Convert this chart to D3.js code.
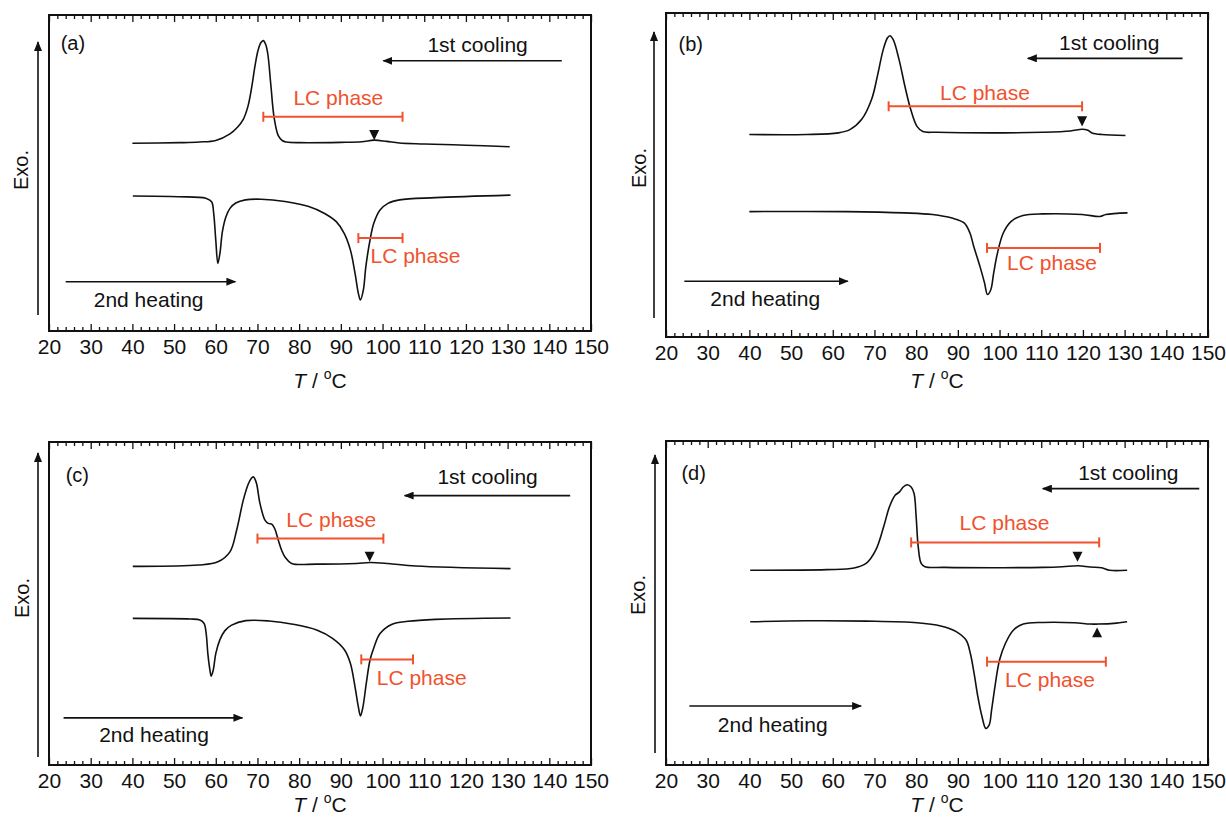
<!DOCTYPE html>
<html>
<head>
<meta charset="utf-8">
<script src="https://cdn.jsdelivr.net/npm/d3@7"></script>
<style>
  html, body { margin: 0; padding: 0; background: #ffffff; }
  svg { display: block; }
  text { font-family: "Liberation Sans", Arial, sans-serif; }
</style>
</head>
<body>
<svg id="chart" width="1226" height="817"></svg>
<script>
// ---------------- DATA ----------------
const xTickValues = [20, 30, 40, 50, 60, 70, 80, 90, 100, 110, 120, 130, 140, 150];
const panelLabels = ["(a)", "(b)", "(c)", "(d)"];
const coolingLabel = "1st cooling";
const heatingLabel = "2nd heating";
const lcLabel = "LC phase";

// curves: [T (°C), heat flow (arbitrary, exo up)]
const coolingA = [[40,59.4],[51.4,59.6],[56,59.8],[60,60.3],[63.4,62.4],[65.2,64.5],[66.6,67.0],[67.7,71.0],[68.6,77.0],[69.4,83.8],[70.1,88.6],[70.8,91.2],[71.4,91.9],[72.0,90.6],[72.5,87.5],[73.2,78.0],[74.0,67.5],[75.0,61.8],[76.0,60.2],[77.0,59.8],[80,59.6],[90,59.7],[95,59.9],[98.0,60.4],[101,60.0],[104,59.5],[110,59.2],[120,58.8],[130.5,58.3]];
const heatingA = [[40.1,42.7],[51.0,42.5],[57.6,42.0],[59.0,40.9],[59.5,37.2],[60.0,28.8],[60.5,21.4],[61.0,24.6],[61.6,31.5],[62.4,36.0],[63.4,38.8],[64.8,40.5],[67.1,41.5],[70.9,41.7],[76.6,41.0],[82.3,39.4],[86.1,37.2],[88.9,34.6],[90.8,30.9],[92.3,25.6],[93.4,18.3],[94.2,11.9],[94.7,9.8],[95.4,13.0],[96.0,20.4],[97.0,28.8],[97.9,34.1],[99.4,38.3],[101.3,40.4],[104.1,41.5],[112.7,42.2],[130.7,43.0]];

const coolingB = [[40.0,62.5],[53.7,62.5],[61.3,63.0],[64.1,64.0],[66.9,67.1],[69.3,73.3],[70.7,80.5],[72.1,88.7],[73.1,92.3],[73.7,93.0],[74.5,91.8],[75.9,85.6],[77.3,77.4],[78.7,70.2],[80.2,65.0],[81.6,63.4],[84.9,63.2],[100.9,63.0],[110.4,63.2],[117.0,63.6],[119.8,64.1],[121.2,63.8],[122.2,63.0],[124.5,62.5],[130.2,62.2]];
const heatingB = [[40.0,38.7],[63.2,38.7],[77.3,38.3],[83.9,37.8],[88.6,36.7],[91.5,35.2],[92.9,32.1],[93.8,28.0],[95.3,21.8],[96.4,16.7],[97.1,13.1],[97.9,14.6],[98.6,19.8],[99.5,25.9],[100.9,32.1],[102.8,35.7],[105.6,37.5],[110.4,38.0],[119.8,37.8],[124.1,37.2],[125.5,37.8],[130.7,38.3]];

const coolingC = [[40.1,61.5],[55.8,61.9],[60.5,62.9],[63.4,66.0],[65.0,72.7],[66.6,82.0],[67.8,87.0],[68.5,88.7],[69.0,89.2],[69.7,87.5],[70.6,81.0],[71.8,75.8],[72.6,74.8],[73.5,74.5],[74.2,73.0],[75.0,69.6],[75.8,66.5],[76.6,64.4],[78.2,62.4],[84.2,62.2],[93.7,62.4],[97.0,62.7],[101.3,62.4],[108.0,61.6],[130.7,60.8]];
const heatingC = [[40.1,45.4],[53.9,45.2],[56.2,44.9],[57.2,43.8],[57.7,40.7],[58.1,34.5],[58.6,29.4],[58.9,27.5],[59.4,29.4],[60.0,34.5],[61.0,38.8],[62.2,41.6],[63.8,43.3],[67.2,44.7],[72.8,44.6],[78.5,43.6],[84.2,41.8],[88.0,39.2],[90.9,35.6],[92.3,31.4],[93.4,24.2],[94.2,18.0],[94.7,15.2],[95.3,18.0],[96.1,25.3],[97.0,32.5],[98.0,36.6],[99.4,40.7],[102.3,43.6],[106.1,44.5],[112.7,45.1],[130.7,45.5]];

const coolingD = [[40.2,60.1],[58.5,60.3],[65.1,60.8],[68.0,62.2],[70.3,66.3],[72.2,73.5],[73.6,79.7],[75.0,83.3],[76.0,84.3],[76.9,85.8],[77.9,86.5],[78.8,85.8],[79.5,83.8],[80.0,76.6],[80.5,67.3],[81.2,62.2],[82.1,61.2],[86.8,61.0],[101.0,60.9],[110.4,61.0],[115.1,61.2],[118.9,61.5],[121.7,61.1],[124.5,60.9],[126.4,60.1],[130.6,60.1]];
const heatingD = [[40.2,44.2],[53.8,44.5],[68.0,44.4],[80.2,43.9],[85.9,42.9],[89.7,41.1],[92.0,38.5],[93.0,34.4],[93.9,28.3],[94.8,21.1],[95.8,14.9],[96.7,11.3],[97.5,12.3],[98.1,17.0],[98.9,24.2],[100.0,32.4],[101.4,37.5],[103.3,41.6],[105.7,43.5],[110.4,44.0],[117.9,43.9],[121.7,43.5],[123.6,43.5],[127.4,43.7],[130.6,44.2]];

// LC phase temperature ranges [T start, T end] (cooling / heating)
const lcCoolRanges = [[71.4,104.8],[73.4,119.8],[70.0,100.2],[78.8,123.9]];
const lcHeatRanges = [[94.2,104.8],[97.0,124.1],[94.9,107.3],[97.0,125.5]];
// small transition markers [T, direction] (-1 = pointing down, +1 = pointing up)
const markersA = [[98.0,-1]];
const markersB = [[119.8,-1]];
const markersC = [[96.9,-1]];
const markersD = [[118.7,-1],[123.4,1]];

// ---------------- LAYOUT ----------------
const svg = d3.select("#chart");
const RED = "#f0522e";
const INK = "#111";
const FS = 21;

const defs = svg.append("defs");
defs.append("marker").attr("id","ah").attr("viewBox","0 0 10 8")
  .attr("refX",9).attr("refY",4).attr("markerWidth",10).attr("markerHeight",8)
  .attr("markerUnits","userSpaceOnUse").attr("orient","auto")
  .append("path").attr("d","M0,0 L10,4 L0,8 Z").attr("fill",INK);

const panels = [
  { label: panelLabels[0], cool: coolingA, heat: heatingA, lcC: lcCoolRanges[0], lcH: lcHeatRanges[0], marks: markersA,
    box: {x0:49, x1:591, y0:15, y1:331}, yArrow: {x:38, y0:315, y1:42}, exo: {x:21, y:170}, titleY: 388,
    lab: [22.8,88.9], coolTxt:[122.8,88.3], coolArr:[143.0,100.2,85.5], lcCv:67.8, lcCtxt:[89.4,71.5], markV:[63.6,60.4],
    lcHv:29.4, lcHtxt:[107.9,21.5], heatArr:[24.0,64.7,15.6], heatTxt:[43.9,7.6] },
  { label: panelLabels[1], cool: coolingB, heat: heatingB, lcC: lcCoolRanges[1], lcH: lcHeatRanges[1], marks: markersB,
    box: {x0:666, x1:1208, y0:13, y1:337}, yArrow: {x:654, y0:318, y1:32}, exo: {x:639, y:168}, titleY: 388,
    lab: [23.0,88.2], coolTxt:[126.3,88.7], coolArr:[143.9,106.8,86.0], lcCv:71.2, lcCtxt:[96.5,73.3], markV:[68.1,65.0],
    lcHv:27.5, lcHtxt:[112.6,20.8], heatArr:[24.4,63.6,17.2], heatTxt:[43.8,9.5] },
  { label: panelLabels[2], cool: coolingC, heat: heatingC, lcC: lcCoolRanges[2], lcH: lcHeatRanges[2], marks: markersC,
    box: {x0:49, x1:591, y0:442, y1:765}, yArrow: {x:38, y0:757, y1:453}, exo: {x:22, y:598}, titleY: 812,
    lab: [24.0,87.6], coolTxt:[125.2,86.9], coolArr:[145.0,105.3,83.4], lcCv:70.1, lcCtxt:[87.7,73.7], markV:[66.0,62.9],
    lcHv:32.7, lcHtxt:[109.4,24.7], heatArr:[23.5,66.4,14.6], heatTxt:[45.2,7.2] },
  { label: panelLabels[3], cool: coolingD, heat: heatingD, lcC: lcCoolRanges[3], lcH: lcHeatRanges[3], marks: markersD,
    box: {x0:666, x1:1208, y0:441, y1:765}, yArrow: {x:655, y0:753, y1:455}, exo: {x:638, y:595}, titleY: 812,
    lab: [23.7,87.9], coolTxt:[130.9,87.9], coolArr:[147.9,110.4,85.3], lcCv:68.7, lcCtxt:[101.2,72.5], markV:[65.8,62.7], markUpV:[39.4,42.4],
    lcHv:31.9, lcHtxt:[112.1,24.2], heatArr:[25.6,66.8,18.2], heatTxt:[45.6,10.3] }
];

panels.forEach(p => {
  const b = p.box;
  const x = d3.scaleLinear().domain([20,150]).range([b.x0,b.x1]);
  const y = d3.scaleLinear().domain([0,100]).range([b.y1,b.y0]);
  const g = svg.append("g");

  // axes (ticks inward), minor every 2
  const minor = d3.range(20,151,2).filter(v => v % 10 !== 0);
  g.append("g").attr("transform",`translate(0,${b.y1})`)
    .call(d3.axisBottom(x).tickValues(minor).tickSize(-4).tickFormat(""))
    .call(s => { s.select(".domain").remove(); s.selectAll("line").attr("stroke",INK).attr("stroke-width",1.3); });
  g.append("g").attr("transform",`translate(0,${b.y1})`)
    .call(d3.axisBottom(x).tickValues(xTickValues).tickSize(-7).tickPadding(8).tickFormat(d3.format("d")))
    .call(s => { s.select(".domain").remove(); s.selectAll("line").attr("stroke",INK).attr("stroke-width",1.3);
                 s.selectAll("text").attr("font-size",FS).attr("fill",INK).attr("font-family","Liberation Sans, Arial, sans-serif"); });
  g.append("g").attr("transform",`translate(0,${b.y0})`)
    .call(d3.axisTop(x).tickValues(minor).tickSize(-4).tickFormat(""))
    .call(s => { s.select(".domain").remove(); s.selectAll("line").attr("stroke",INK).attr("stroke-width",1.3); });
  g.append("g").attr("transform",`translate(0,${b.y0})`)
    .call(d3.axisTop(x).tickValues(xTickValues).tickSize(-7).tickFormat(""))
    .call(s => { s.select(".domain").remove(); s.selectAll("line").attr("stroke",INK).attr("stroke-width",1.3); });

  // frame
  g.append("rect").attr("x",b.x0).attr("y",b.y0).attr("width",b.x1-b.x0).attr("height",b.y1-b.y0)
    .attr("fill","none").attr("stroke",INK).attr("stroke-width",2);

  // x title
  const t = g.append("text").attr("x",(b.x0+b.x1)/2).attr("y",p.titleY).attr("text-anchor","middle")
    .attr("font-size",FS).attr("fill",INK);
  t.append("tspan").attr("font-style","italic").text("T");
  t.append("tspan").text(" / ");
  t.append("tspan").attr("font-size",14).attr("dy",-9).text("o");
  t.append("tspan").attr("dy",9).text("C");

  // Exo. y arrow + label
  g.append("line").attr("x1",p.yArrow.x).attr("x2",p.yArrow.x).attr("y1",p.yArrow.y0).attr("y2",p.yArrow.y1)
    .attr("stroke",INK).attr("stroke-width",1.6).attr("marker-end","url(#ah)");
  g.append("text").attr("transform",`translate(${p.exo.x},${p.exo.y}) rotate(-90)`).attr("text-anchor","middle")
    .attr("dy","0.35em").attr("font-size",20).attr("fill",INK).text("Exo.");

  // curves
  const line = d3.line().x(d => x(d[0])).y(d => y(d[1])).curve(d3.curveCatmullRom.alpha(0.5));
  g.append("path").datum(p.cool).attr("d",line).attr("fill","none").attr("stroke",INK).attr("stroke-width",1.6);
  g.append("path").datum(p.heat).attr("d",line).attr("fill","none").attr("stroke",INK).attr("stroke-width",1.6);

  // panel label
  g.append("text").attr("x",x(p.lab[0])).attr("y",y(p.lab[1])).attr("font-size",20).attr("fill",INK).text(p.label);

  // cooling arrow + label
  g.append("line").attr("x1",x(p.coolArr[0])).attr("x2",x(p.coolArr[1])).attr("y1",y(p.coolArr[2])).attr("y2",y(p.coolArr[2]))
    .attr("stroke",INK).attr("stroke-width",1.6).attr("marker-end","url(#ah)");
  g.append("text").attr("x",x(p.coolTxt[0])).attr("y",y(p.coolTxt[1])).attr("text-anchor","middle")
    .attr("font-size",FS).attr("fill",INK).text(coolingLabel);

  // heating arrow + label
  g.append("line").attr("x1",x(p.heatArr[0])).attr("x2",x(p.heatArr[1])).attr("y1",y(p.heatArr[2])).attr("y2",y(p.heatArr[2]))
    .attr("stroke",INK).attr("stroke-width",1.6).attr("marker-end","url(#ah)");
  g.append("text").attr("x",x(p.heatTxt[0])).attr("y",y(p.heatTxt[1])).attr("text-anchor","middle")
    .attr("font-size",FS).attr("fill",INK).text(heatingLabel);

  // LC phase bars
  function lcBar(range, v) {
    const yy = y(v);
    g.append("line").attr("x1",x(range[0])).attr("x2",x(range[1])).attr("y1",yy).attr("y2",yy)
      .attr("stroke",RED).attr("stroke-width",2);
    range.forEach(r => g.append("line").attr("x1",x(r)).attr("x2",x(r)).attr("y1",yy-5).attr("y2",yy+5)
      .attr("stroke",RED).attr("stroke-width",2));
  }
  lcBar(p.lcC, p.lcCv);
  lcBar(p.lcH, p.lcHv);
  g.append("text").attr("x",x(p.lcCtxt[0])).attr("y",y(p.lcCtxt[1])).attr("text-anchor","middle")
    .attr("font-size",FS).attr("fill",RED).text(lcLabel);
  g.append("text").attr("x",x(p.lcHtxt[0])).attr("y",y(p.lcHtxt[1])).attr("text-anchor","middle")
    .attr("font-size",FS).attr("fill",RED).text(lcLabel);

  // transition markers
  p.marks.forEach(m => {
    const vv = m[1] < 0 ? p.markV : p.markUpV;
    const cx = x(m[0]), yb = y(vv[0]), yt = y(vv[1]);
    g.append("path").attr("d",`M${cx-5},${yb} L${cx+5},${yb} L${cx},${yt} Z`).attr("fill",INK);
  });
});
</script>
</body>
</html>
